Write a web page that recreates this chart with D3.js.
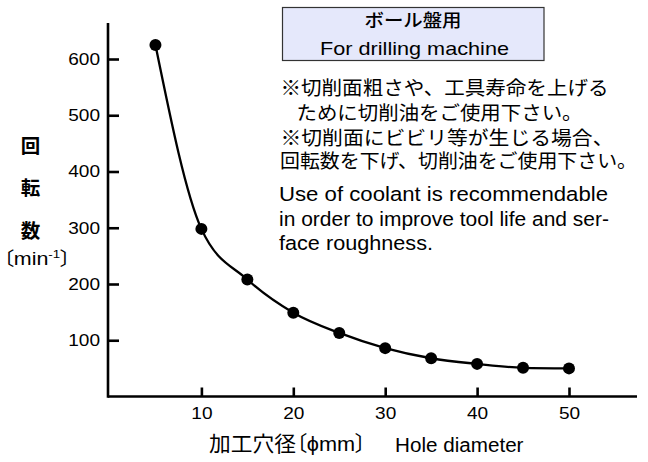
<!DOCTYPE html>
<html><head><meta charset="utf-8">
<script src="https://cdn.jsdelivr.net/npm/d3@7"></script>
<style>body{margin:0;background:#fff}svg{display:block}.palt{font-feature-settings:"palt" 1}</style>
</head><body>
<svg id="c" width="648" height="462"></svg>
<script>
const holeDiameters = [5, 10, 15, 20, 25, 30, 35, 40, 45, 50];
const rpmValues = [625, 298, 208, 149, 113, 86, 68, 58, 51, 50];
const xTicks = [10, 20, 30, 40, 50];
const yTicks = [100, 200, 300, 400, 500, 600];
const titleJa = "ボール盤用";
const titleEn = "For drilling machine";
const notesJa = ["※切削面粗さや、工具寿命を上げる", "ために切削油をご使用下さい。", "※切削面にビビリ等が生じる場合、", "回転数を下げ、切削油をご使用下さい。"];
const notesEn = ["Use of coolant is recommendable", "in order to improve tool life and ser-", "face roughness."];
const yTitleChars = ["回", "転", "数"];
const xTitleJa = "加工穴径";
const xTitleUnit = "ϕmm";
const xTitleEn = "Hole diameter";

const svg = d3.select("#c");
const LAT = "'Liberation Sans', Arial, Helvetica, sans-serif";
const CJK = "'Noto Sans CJK JP', sans-serif";
const MIX = "'Liberation Sans', 'Noto Sans CJK JP', sans-serif";

const x = d3.scaleLinear().domain([0, 50]).range([109.5, 569]);
const y = d3.scaleLinear().domain([0, 600]).range([396.5, 59]);

function fit(sel, w) { sel.attr("textLength", w).attr("lengthAdjust", "spacingAndGlyphs"); }
function stretch(sel, k) {
  sel.each(function () {
    const w = this.getComputedTextLength();
    d3.select(this).attr("textLength", w * k).attr("lengthAdjust", "spacingAndGlyphs");
  });
}

// axes lines
svg.append("line").attr("x1", 108).attr("x2", 637).attr("y1", y(0)).attr("y2", y(0))
  .attr("stroke", "#000").attr("stroke-width", 2.6);
svg.append("line").attr("x1", 108).attr("x2", 108).attr("y1", 23).attr("y2", y(0) + 1.3)
  .attr("stroke", "#000").attr("stroke-width", 2.6);

const gx = svg.append("g").attr("transform", `translate(0,${y(0)})`)
  .call(d3.axisBottom(x).tickValues(xTicks).tickSizeInner(-9).tickSizeOuter(0).tickPadding(10).tickFormat(d3.format("d")));
gx.select(".domain").remove();
gx.selectAll(".tick line").attr("stroke", "#000").attr("stroke-width", 2.6);
gx.selectAll(".tick text").attr("font-family", LAT).attr("font-size", 17).attr("fill", "#000").call(stretch, 1.12);

const gy = svg.append("g").attr("transform", "translate(108,0)")
  .call(d3.axisLeft(y).tickValues(yTicks).tickSizeInner(-11).tickSizeOuter(0).tickPadding(8).tickFormat(d3.format("d")));
gy.select(".domain").remove();
gy.selectAll(".tick line").attr("stroke", "#000").attr("stroke-width", 2.6);
gy.selectAll(".tick text").attr("font-family", LAT).attr("font-size", 17).attr("fill", "#000").call(stretch, 1.12);

// curve
const pts = holeDiameters.map((d, i) => [d, rpmValues[i]]);
svg.append("path").datum(pts)
  .attr("d", d3.line().x(d => x(d[0])).y(d => y(d[1])).curve(d3.curveMonotoneX))
  .attr("fill", "none").attr("stroke", "#000").attr("stroke-width", 2.3);
svg.selectAll("circle.pt").data(pts).join("circle").attr("class", "pt")
  .attr("cx", d => x(d[0])).attr("cy", d => y(d[1])).attr("r", 6).attr("fill", "#000");

// title box
svg.append("rect").attr("x", 282.5).attr("y", 7.5).attr("width", 261.5).attr("height", 53)
  .attr("fill", "#e5e8fb").attr("stroke", "#333").attr("stroke-width", 1.2);
svg.append("text").attr("x", 413).attr("y", 27).attr("text-anchor", "middle")
  .attr("font-family", CJK).attr("font-size", 18).attr("font-weight", 500).text(titleJa).call(fit, 97);
svg.append("text").attr("x", 414.5).attr("y", 55).attr("text-anchor", "middle")
  .attr("font-family", LAT).attr("font-size", 19).text(titleEn).call(fit, 189);

// notes
const jaX = [280.5, 296.5, 280.5, 280];
const jaY = [95, 120, 145, 168];
const jaW = [328, 286, 333, 357];
notesJa.forEach((t, i) => {
  svg.append("text").attr("x", jaX[i]).attr("y", jaY[i]).attr("font-family", CJK)
    .attr("font-size", 19.5).text(t).call(fit, jaW[i]);
});
const enY = [201, 226, 250];
const enW = [329, 330, 154];
notesEn.forEach((t, i) => {
  svg.append("text").attr("x", 279).attr("y", enY[i]).attr("font-family", LAT)
    .attr("font-size", 20.5).text(t).call(fit, enW[i]);
});

// y title
const yT = [152.5, 194.5, 238];
yTitleChars.forEach((c, i) => {
  svg.append("text").attr("x", 30.5).attr("y", yT[i]).attr("text-anchor", "middle")
    .attr("font-family", CJK).attr("font-size", 19.5).attr("font-weight", 700).text(c);
});
const yu = svg.append("text").attr("class", "palt").attr("x", 3).attr("y", 265)
  .attr("font-family", MIX).attr("font-size", 18.5);
yu.append("tspan").attr("font-family", CJK).text("〔");
yu.append("tspan").text("min");
yu.append("tspan").attr("font-size", 11.5).attr("dy", -7).text("-1");
yu.append("tspan").attr("font-family", CJK).attr("dy", 7).text("〕");
yu.call(fit, 68);

// x title
const xt = svg.append("text").attr("class", "palt").attr("x", 209).attr("y", 451)
  .attr("font-family", MIX).attr("font-size", 21);
xt.append("tspan").attr("font-family", CJK).text(xTitleJa);
xt.append("tspan").attr("font-family", CJK).text("〔");
xt.append("tspan").text(xTitleUnit);
xt.append("tspan").attr("font-family", CJK).text("〕");
xt.call(fit, 157);
svg.append("text").attr("x", 395).attr("y", 451.5).attr("font-family", LAT).attr("font-size", 19.5)
  .text(xTitleEn).call(fit, 128.5);
</script>
</body></html>
